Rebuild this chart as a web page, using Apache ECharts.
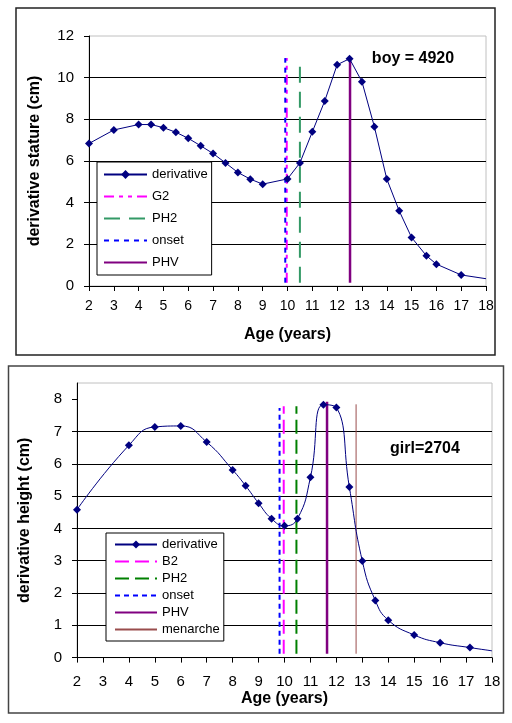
<!DOCTYPE html>
<html>
<head>
<meta charset="utf-8">
<script src="https://cdn.jsdelivr.net/npm/echarts@6/dist/echarts.min.js"></script>
<style>html,body{margin:0;padding:0;background:#fff;}#c{width:512px;height:723px;}</style>
</head>
<body>
<div id="c"></div>
<script>
// ---- top chart (boy) ----
const boyAge   = [2, 3, 4, 4.5, 5, 5.5, 6, 6.5, 7, 7.5, 8, 8.5, 9, 10, 10.5, 11, 11.5, 12, 12.5, 13, 13.5, 14, 14.5, 15, 15.6, 16, 17, 18];
const boyValue = [6.84, 7.49, 7.75, 7.75, 7.60, 7.38, 7.09, 6.73, 6.36, 5.91, 5.45, 5.13, 4.89, 5.14, 5.91, 7.40, 8.88, 10.62, 10.91, 9.81, 7.65, 5.14, 3.61, 2.33, 1.45, 1.05, 0.53, 0.35];
const boyMarkerNames = ['G2', 'PH2', 'onset', 'PHV'];
const boyMarkerAge   = [9.97, 10.5, 9.91, 12.52];
const boyMarkerTop   = [10.94, 10.83, 10.94, 10.91];
const boyMarkerBase  = 0.16;
const boyXTicks = [2, 18, 1];
const boyYTicks = [0, 12, 2];

// ---- bottom chart (girl) ----
const girlAge   = [2, 4, 5, 6, 7, 8, 8.5, 9, 9.5, 10, 10.5, 11, 11.5, 12, 12.5, 13, 13.5, 14, 15, 16, 17.15, 18];
const girlValue = [4.58, 6.57, 7.14, 7.17, 6.67, 5.81, 5.32, 4.78, 4.30, 4.08, 4.30, 5.58, 7.83, 7.74, 5.28, 2.99, 1.77, 1.16, 0.70, 0.46, 0.31, 0.21];
const girlMarkerNames = ['B2', 'PH2', 'onset', 'PHV', 'menarche'];
const girlMarkerAge   = [9.97, 10.46, 9.81, 11.64, 12.76];
const girlMarkerTop   = [7.78, 7.78, 7.73, 7.92, 7.84];
const girlMarkerBase  = 0.12;
const girlXTicks = [2, 18, 1];
const girlYTicks = [0, 8.5, 1];
const girlYLabels = [0, 1, 2, 3, 4, 5, 6, 7, 8];

const FONT = 'Liberation Sans, Arial, sans-serif';
const NAVY = '#000080';

const boyMarkerStyle = {
  'G2':    {color: '#ff00ff', width: 2, type: [10, 5, 4, 5, 4, 5]},
  'PH2':   {color: '#339966', width: 2, type: [16, 9]},
  'onset': {color: '#0000ff', width: 2, type: [5, 5]},
  'PHV':   {color: '#800080', width: 2.5, type: 'solid'}
};
const girlMarkerStyle = {
  'B2':       {color: '#ff00ff', width: 2, type: [14, 6]},
  'PH2':      {color: '#008000', width: 2, type: [14, 6]},
  'onset':    {color: '#0000ff', width: 2, type: [5, 4]},
  'PHV':      {color: '#800080', width: 2.5, type: 'solid'},
  'menarche': {color: '#994d4d', width: 1, type: 'solid'}
};

function derivSeries(name, ages, vals, axis, smooth) {
  return {
    type: 'line', name: name, xAxisIndex: axis, yAxisIndex: axis,
    data: ages.map((a, i) => i === ages.length - 1 ? {value: [a, vals[i]], symbol: 'none'} : [a, vals[i]]),
    symbol: 'diamond', symbolSize: 8, smooth: smooth,
    lineStyle: {color: NAVY, width: 1}, itemStyle: {color: NAVY},
    z: 5, animation: false
  };
}
function markerSeries(prefix, names, ages, tops, base, styles, axis) {
  return names.map((n, i) => ({
    type: 'line', name: prefix + n, xAxisIndex: axis, yAxisIndex: axis,
    data: [[ages[i], base], [ages[i], tops[i]]],
    symbol: 'none', lineStyle: styles[n], itemStyle: {color: 'rgba(0,0,0,0)', borderWidth: 0},
    z: 3, animation: false
  }));
}

function xAxisCfg(grid, ticks, fs, margin, gap) {
  return {
    gridIndex: grid, type: 'value', min: ticks[0], max: ticks[1], interval: ticks[2],
    axisLine: {show: true, onZero: false, lineStyle: {color: '#000', width: 1}},
    axisTick: {show: true, length: 5, lineStyle: {color: '#000'}},
    axisLabel: {fontSize: fs, color: '#000', fontFamily: FONT, margin: margin},
    splitLine: {show: false},
    name: 'Age (years)', nameLocation: 'middle', nameGap: gap,
    nameTextStyle: {fontSize: 16, fontWeight: 'bold', color: '#000', fontFamily: FONT}
  };
}

const chart = echarts.init(document.getElementById('c'), null, {renderer: 'canvas'});
const option = {
  animation: false,
  backgroundColor: '#fff',
  grid: [
    {left: 89, top: 36, width: 397, height: 250, show: true, borderColor: '#c0c0c0', borderWidth: 1},
    {left: 77, top: 383, width: 415, height: 274.6, show: true, borderColor: '#c0c0c0', borderWidth: 1}
  ],
  xAxis: [
    xAxisCfg(0, boyXTicks, 14, 13, 41),
    xAxisCfg(1, girlXTicks, 15, 17, 33)
  ],
  yAxis: [
    {
      gridIndex: 0, type: 'value', min: boyYTicks[0], max: boyYTicks[1], interval: boyYTicks[2],
      axisLine: {show: true, lineStyle: {color: '#000'}},
      axisTick: {show: true, length: 5, lineStyle: {color: '#000'}},
      axisLabel: {fontSize: 15, color: '#000', fontFamily: FONT, margin: 15},
      splitLine: {show: true, showMaxLine: false, lineStyle: {color: '#000', width: 1}},
      name: 'derivative stature (cm)', nameLocation: 'middle', nameGap: 46, nameRotate: 90,
      nameTextStyle: {fontSize: 16, fontWeight: 'bold', color: '#000', fontFamily: FONT}
    },
    {
      gridIndex: 1, type: 'value', min: girlYTicks[0], max: girlYTicks[1], interval: girlYTicks[2],
      axisLine: {show: true, lineStyle: {color: '#000'}},
      axisTick: {show: true, length: 5, lineStyle: {color: '#000'}, customValues: girlYLabels},
      axisLabel: {fontSize: 15, color: '#000', fontFamily: FONT, margin: 15, customValues: girlYLabels,
                  formatter: v => (girlYLabels.indexOf(v) >= 0 ? String(v) : '')},
      splitLine: {show: true, showMaxLine: false, lineStyle: {color: '#000', width: 1}},
      name: 'derivative height (cm)', nameLocation: 'middle', nameGap: 44, nameRotate: 90,
      nameTextStyle: {fontSize: 16, fontWeight: 'bold', color: '#000', fontFamily: FONT}
    }
  ],
  legend: [
    {
      left: 97, top: 162, orient: 'vertical', itemWidth: 43, itemHeight: 11, itemGap: 9,
      padding: [6, 4, 6, 6], borderColor: '#000', borderWidth: 1, backgroundColor: '#fff',
      selectedMode: false, data: ['derivative'].concat(boyMarkerNames),
      textStyle: {fontSize: 13, color: '#000', fontFamily: FONT}
    },
    {
      left: 106, top: 533, orient: 'vertical', itemWidth: 42, itemHeight: 10, itemGap: 4,
      padding: [5, 4, 5, 8], borderColor: '#000', borderWidth: 1, backgroundColor: '#fff',
      selectedMode: false, data: ['g:derivative'].concat(girlMarkerNames.map(n => 'g:' + n)),
      formatter: n => n.replace('g:', ''),
      textStyle: {fontSize: 13, color: '#000', fontFamily: FONT}
    }
  ],
  graphic: [
    {type: 'rect', silent: true, z: -10, shape: {x: 16, y: 8, width: 479, height: 347},
     style: {fill: 'none', stroke: '#222', lineWidth: 1.5}},
    {type: 'rect', silent: true, z: -10, shape: {x: 8.5, y: 366, width: 495, height: 347},
     style: {fill: 'none', stroke: '#444', lineWidth: 1.5}},
    {type: 'text', silent: true, x: 413, y: 59,
     style: {text: 'boy = 4920', font: 'bold 16px ' + FONT, fill: '#000', align: 'center', verticalAlign: 'middle'}},
    {type: 'text', silent: true, x: 425, y: 449,
     style: {text: 'girl=2704', font: 'bold 16px ' + FONT, fill: '#000', align: 'center', verticalAlign: 'middle'}}
  ],
  series: [derivSeries('derivative', boyAge, boyValue, 0, false)]
    .concat(markerSeries('', boyMarkerNames, boyMarkerAge, boyMarkerTop, boyMarkerBase, boyMarkerStyle, 0))
    .concat([derivSeries('g:derivative', girlAge, girlValue, 1, 0.5)])
    .concat(markerSeries('g:', girlMarkerNames, girlMarkerAge, girlMarkerTop, girlMarkerBase, girlMarkerStyle, 1))
};
chart.setOption(option);
</script>
</body>
</html>
